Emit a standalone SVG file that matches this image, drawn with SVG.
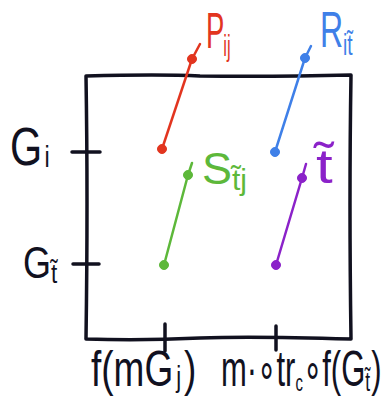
<svg xmlns="http://www.w3.org/2000/svg" width="386" height="407" viewBox="0 0 386 407">
<style>
.ax{fill:none;stroke:#11111f;stroke-width:3.5;stroke-linecap:round;stroke-linejoin:round}
.ln{fill:none;stroke-width:2.5;stroke-linecap:round;stroke-linejoin:round}
.t{font-family:"Liberation Sans",Arial,sans-serif}
.k{fill:#11111f}
.red{stroke:#e2351f;fill:#e2351f}
.blue{stroke:#3f80e8;fill:#3f80e8}
.green{stroke:#5db83a;fill:#5db83a}
.purple{stroke:#8b22c9;fill:#8b22c9}
</style>
<rect width="386" height="407" fill="#ffffff"/>
<g id="frame">
<path class="ax" d="M86,76 Q160,74 200,76 Q270,77 351,75 Q349,200 351,339 Q250,336 200,338 Q140,341 86,339 Q88,200 86,76 Z"/>
<line class="ax" x1="72" y1="152" x2="100" y2="152"/>
<line class="ax" x1="73" y1="264" x2="99" y2="264"/>
<line class="ax" x1="165" y1="324" x2="165" y2="351"/>
<line class="ax" x1="276" y1="326" x2="276" y2="350"/>
</g>
<g id="connectors">
<polyline class="ln red" points="162,149 192,59 200,44" style="fill:none"/>
<polyline class="ln blue" points="275,152 305,58 311,46" style="fill:none"/>
<polyline class="ln green" points="164,265 188,175 192,163" style="fill:none"/>
<polyline class="ln purple" points="276,265 302,178 306,164" style="fill:none"/>
</g>
<g id="P">
<circle class="red" cx="162" cy="149" r="4.5"/>
<circle class="red" cx="192" cy="59" r="4.5"/>
<text class="t" fill="#e2351f" transform="translate(206,48) scale(0.55,1)" font-size="50">P<tspan font-size="30" dy="8" dx="-2">ij</tspan></text>
</g>
<g id="R">
<circle class="blue" cx="275" cy="152" r="4.5"/>
<circle class="blue" cx="305" cy="58" r="4.5"/>
<text class="t" fill="#3f80e8" transform="translate(320,47) scale(0.64,1)" font-size="50">R<tspan font-size="30" dy="8" dx="0">it̃</tspan></text>
</g>
<g id="S">
<circle class="green" cx="164" cy="265" r="4.5"/>
<circle class="green" cx="188" cy="175" r="4.5"/>
<text class="t" fill="#5db83a" transform="translate(202,184)" font-size="45">S<tspan font-size="30" dy="6" dx="0">t̃j</tspan></text>
</g>
<g id="T">
<circle class="purple" cx="276" cy="265" r="4.5"/>
<circle class="purple" cx="302" cy="178" r="4.5"/>
<text class="t" fill="#8b22c9" transform="translate(316,183) scale(1.25,1)" font-size="48">t̃</text>
</g>
<g id="Gi">
<text class="t k" transform="translate(10,165) scale(0.78,1)" font-size="53">G<tspan font-size="30" dy="2" dx="3">i</tspan></text>
</g>
<g id="Gt">
<text class="t k" transform="translate(23,278) scale(0.8,1)" font-size="45">G<tspan font-size="28" dy="5" dx="0">t̃</tspan></text>
</g>
<g id="xlabel1">
<text class="t k" transform="translate(91,386) scale(0.74,1)" font-size="50">f(mG<tspan font-size="30" dy="1" dx="4">j</tspan><tspan font-size="50" dy="-1" dx="4">)</tspan></text>
</g>
<g id="xlabel2">
<text class="t k" transform="translate(221,386) scale(0.62,1)" font-size="50">m·∘tr<tspan font-size="24" dy="5">c</tspan><tspan dy="-5">∘f(G</tspan><tspan font-size="28" dy="5">t̃</tspan><tspan dy="-5" dx="2">)</tspan></text>
</g>
</svg>
